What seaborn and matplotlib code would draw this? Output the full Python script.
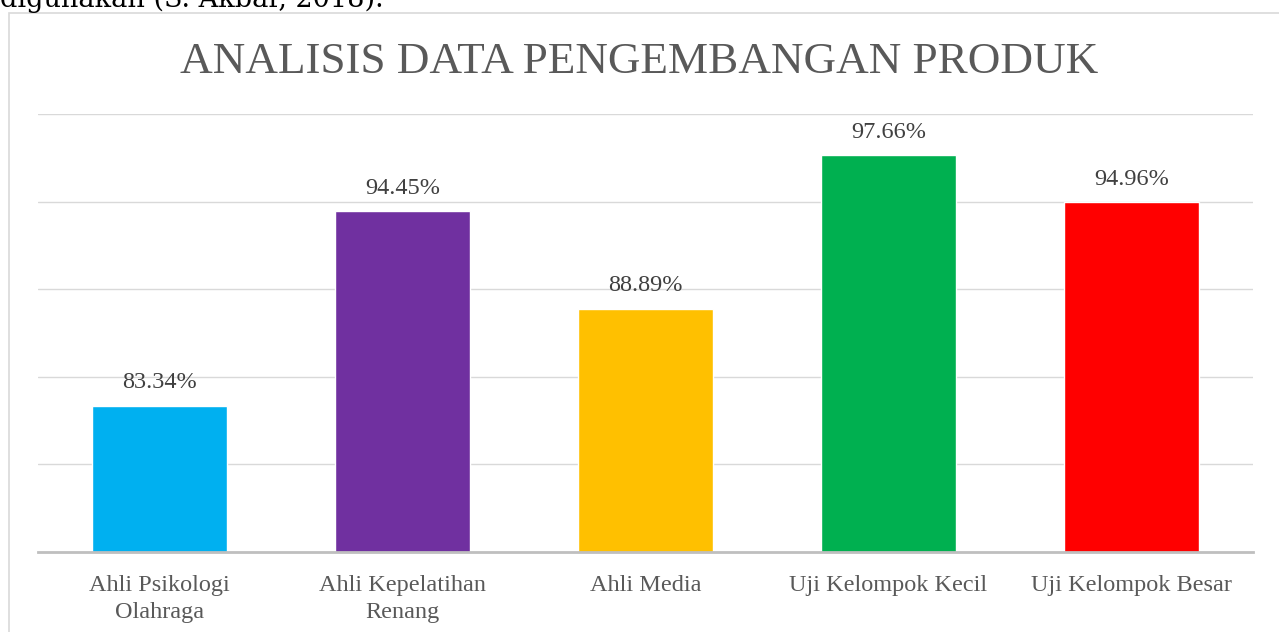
import pandas as pd
import seaborn as sns
import matplotlib.pyplot as plt

# data
kategori = ['Ahli Psikologi\nOlahraga', 'Ahli Kepelatihan\nRenang', 'Ahli Media',
            'Uji Kelompok Kecil', 'Uji Kelompok Besar']
persen = [83.34, 94.45, 88.89, 97.66, 94.96]
warna = ['#00B0F0', '#7030A0', '#FFC000', '#00B050', '#FF0000']

df = pd.DataFrame({'Kategori': kategori, 'Persen': persen})

sns.set_style('white')
plt.rcParams['font.family'] = ['Liberation Serif', 'DejaVu Serif']

fig = plt.figure(figsize=(12.79, 6.32), dpi=100)
ax = fig.add_axes([0.0297, 0.1266, 0.9500, 0.6930])

sns.barplot(data=df, x='Kategori', y='Persen', hue='Kategori', palette=warna,
            width=0.556, legend=False, ax=ax, saturation=1)

ax.set_ylim(75, 100)
ax.set_xlim(-0.5, 4.5)
ax.set_yticks([75, 80, 85, 90, 95, 100])
ax.yaxis.grid(True, color='#d9d9d9', linewidth=1)
ax.set_axisbelow(True)
ax.tick_params(axis='y', left=False, labelleft=False)
ax.tick_params(axis='x', bottom=False, pad=13, labelsize=17.5, labelcolor='#595959')
for lbl in ax.get_xticklabels():
    lbl.set_linespacing(1.4)
ax.set_xlabel('')
ax.set_ylabel('')
for s in ['top', 'right', 'left']:
    ax.spines[s].set_visible(False)
ax.spines['bottom'].set_color('#bfbfbf')
ax.spines['bottom'].set_linewidth(2)

for i, v in enumerate(persen):
    ax.annotate(f'{v:.2f}%', (i, v), xytext=(0, 9), textcoords='offset points',
                ha='center', va='bottom', fontsize=17.5, color='#404040')

fig.text(0.5, 1 - 62 / 632, 'ANALISIS DATA PENGEMBANGAN PRODUK', ha='center', va='center',
         fontsize=32.5, color='#595959')

# chart frame and the cut-off line of text above it
frame = plt.Rectangle((9 / 1279, -0.01), 1.0, 1 - 13 / 632 + 0.01, transform=fig.transFigure,
                      fill=False, edgecolor='#d9d9d9', linewidth=1.2)
fig.patches.append(frame)
fig.text(0.0, 1.0 + 1 / 632, 'digunakan (S. Akbar, 2018).', ha='left', va='center',
         fontsize=19.5, color='black', family=['DejaVu Serif'])

fig.savefig('out.png', dpi=100, facecolor='white')
